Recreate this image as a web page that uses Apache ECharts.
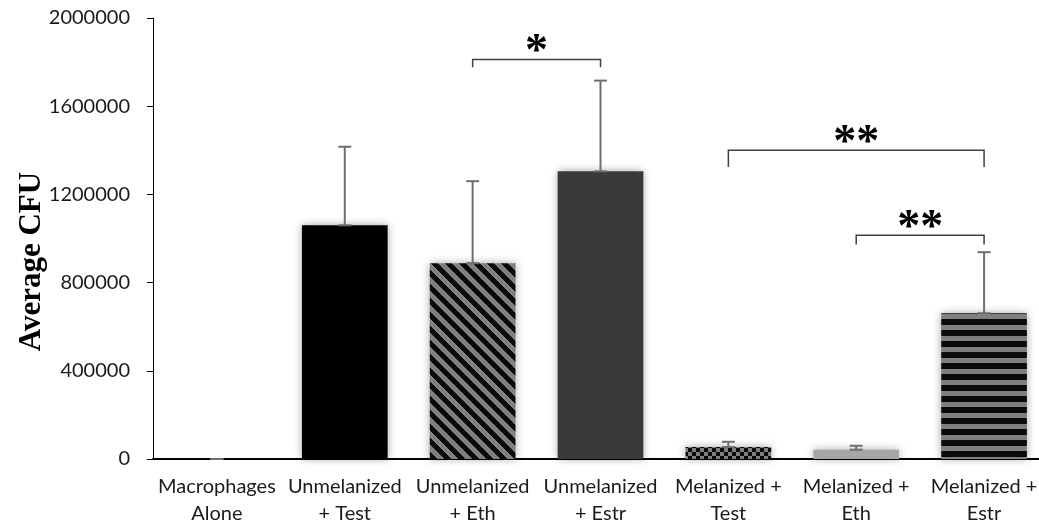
<!DOCTYPE html>
<html>
<head>
<meta charset="utf-8">
<script src="https://cdn.jsdelivr.net/npm/echarts@6/dist/echarts.min.js"></script>
<style>
  html, body { margin: 0; padding: 0; background: #ffffff; }
  #chart { width: 1039px; height: 521px; }
</style>
</head>
<body>
<div id="chart"></div>
<script>
// Groups along the x axis
const categories = [
  'Macrophages\nAlone',
  'Unmelanized\n+ Test',
  'Unmelanized\n+ Eth',
  'Unmelanized\n+ Estr',
  'Melanized +\nTest',
  'Melanized +\nEth',
  'Melanized +\nEstr'
];

// Mean CFU per group and the upper error (standard deviation)
const meanCFU = [0, 1060000, 888000, 1305000, 54000, 42000, 661000];
const errorCFU = [0, 356000, 372000, 411000, 24000, 18000, 277000];

// Y-axis ticks
const yMin = 0;
const yMax = 2000000;
const yStep = 400000;

// Significance brackets: [from group, to group, bracket level, end drop, stars]
const bracketFrom = [2, 4, 5];
const bracketTo = [3, 6, 6];
const bracketLevel = [1812000, 1400000, 1015000];
const bracketDrop = [35000, 76000, 42000];
const bracketStars = ['*', '**', '**'];

// ---- fill patterns ----
function makeTile(w, h, painter) {
  const c = document.createElement('canvas');
  c.width = w; c.height = h;
  const ctx = c.getContext('2d');
  painter(ctx, w, h);
  return c;
}
const GRAY = '#7f7f7f';
const BLACK = '#0a0a0a';

// downward diagonal stripes
const diagTile = makeTile(14, 14, (ctx, w, h) => {
  ctx.fillStyle = GRAY; ctx.fillRect(0, 0, w, h);
  ctx.fillStyle = BLACK;
  for (let y = 0; y < h; y++) {
    for (let x = 0; x < w; x++) {
      if ((((x - y) % 14) + 14) % 14 < 7) ctx.fillRect(x, y, 1, 1);
    }
  }
});
// small checkerboard
const checkTile = makeTile(8, 8, (ctx, w, h) => {
  ctx.fillStyle = GRAY; ctx.fillRect(0, 0, w, h);
  ctx.fillStyle = BLACK;
  ctx.fillRect(0, 0, 4, 4);
  ctx.fillRect(4, 4, 4, 4);
});
// horizontal stripes
const hTile = makeTile(4, 11, (ctx, w, h) => {
  ctx.fillStyle = GRAY; ctx.fillRect(0, 0, w, h);
  ctx.fillStyle = BLACK; ctx.fillRect(0, 0, w, 6);
});

const barFills = [
  '#ffffff',
  '#000000',
  { image: diagTile, repeat: 'repeat' },
  '#3a3a3a',
  { image: checkTile, repeat: 'repeat' },
  '#a6a6a6',
  { image: hTile, repeat: 'repeat' }
];

const barData = meanCFU.map((v, i) => ({
  value: v,
  itemStyle: { color: barFills[i] }
}));

const errData = meanCFU.map((v, i) => [i, v, v + errorCFU[i]]);

const bracketData = bracketFrom.map((f, i) => [f, bracketTo[i], bracketLevel[i], bracketDrop[i], bracketStars[i]]);

const chart = echarts.init(document.getElementById('chart'), null, { renderer: 'canvas' });

chart.setOption({
  animation: false,
  backgroundColor: '#ffffff',
  grid: { left: 153, top: 18, width: 895, height: 441, containLabel: false, outerBoundsMode: 'none' },
  xAxis: {
    type: 'category',
    data: categories,
    axisLine: { show: true, lineStyle: { color: '#000000', width: 2 } },
    axisTick: { show: false },
    axisLabel: {
      color: '#1a1a1a',
      fontFamily: 'Lato',
      fontSize: 20,
      lineHeight: 27,
      margin: 14,
      interval: 0
    }
  },
  yAxis: {
    type: 'value',
    min: yMin,
    max: yMax,
    interval: yStep,
    name: 'Average CFU',
    nameLocation: 'middle',
    nameGap: 106,
    nameRotate: 90,
    nameMoveOverlap: false,
    nameTextStyle: {
      fontFamily: 'Liberation Serif',
      fontWeight: 'bold',
      fontSize: 31,
      color: '#000000',
      padding: [0, 0, 0, -46]
    },
    axisLine: { show: true, lineStyle: { color: '#000000', width: 1 } },
    axisTick: { show: true, inside: false, length: 6, lineStyle: { color: '#000000' } },
    splitLine: { show: false },
    axisLabel: {
      color: '#1a1a1a',
      fontFamily: 'Lato',
      fontSize: 20,
      margin: 23,
      formatter: (v) => String(v)
    }
  },
  series: [
    {
      type: 'bar',
      data: barData,
      barCategoryGap: '33%',
      itemStyle: {
        shadowBlur: 8,
        shadowColor: 'rgba(0,0,0,0.35)'
      }
    },
    {
      type: 'custom',
      data: errData,
      z: 5,
      renderItem: function (params, api) {
        const x = api.value(0);
        const lo = api.coord([x, api.value(1)]);
        const hi = api.coord([x, api.value(2)]);
        const half = 6.5;
        const style = { stroke: '#6e6e6e', lineWidth: 2 };
        return {
          type: 'group',
          children: [
            { type: 'line', shape: { x1: lo[0], y1: lo[1], x2: hi[0], y2: hi[1] }, style },
            { type: 'line', shape: { x1: hi[0] - half, y1: hi[1], x2: hi[0] + half, y2: hi[1] }, style },
            { type: 'line', shape: { x1: lo[0] - half, y1: lo[1], x2: lo[0] + half, y2: lo[1] }, style }
          ]
        };
      }
    },
    {
      type: 'custom',
      data: bracketData,
      z: 6,
      renderItem: function (params, api) {
        const a = api.coord([api.value(0), api.value(2)]);
        const b = api.coord([api.value(1), api.value(2)]);
        const a2 = api.coord([api.value(0), api.value(2) - api.value(3)]);
        const stars = bracketData[params.dataIndex][4];
        return {
          type: 'group',
          children: [
            {
              type: 'polyline',
              shape: { points: [[a[0], a2[1]], [a[0], a[1]], [b[0], b[1]], [b[0], a2[1]]] },
              style: { stroke: '#404040', lineWidth: 1.5, fill: null }
            },
            {
              type: 'text',
              x: (a[0] + b[0]) / 2,
              y: a[1] + 17,
              style: {
                text: stars,
                fontFamily: 'Liberation Serif',
                fontWeight: 'bold',
                fontSize: 46,
                fill: '#000000',
                align: 'center',
                verticalAlign: 'bottom'
              }
            }
          ]
        };
      }
    }
  ]
});
</script>
</body>
</html>
